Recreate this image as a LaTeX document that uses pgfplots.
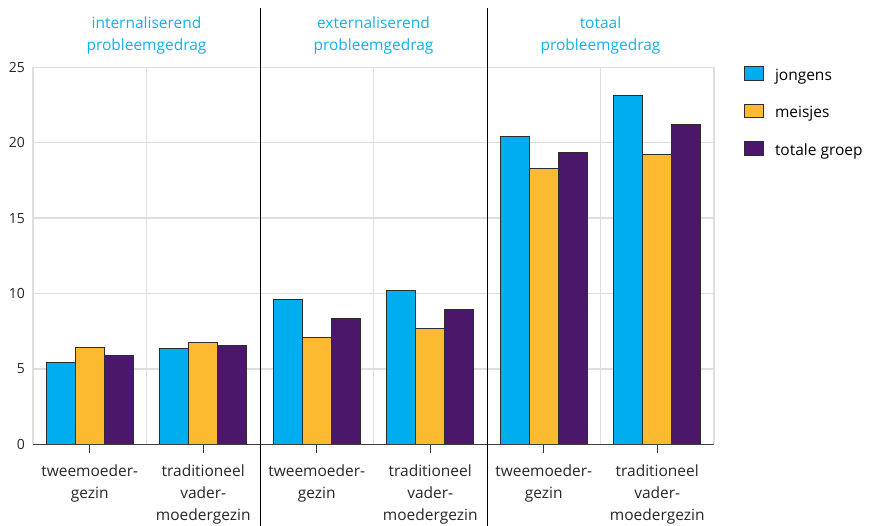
\documentclass[border=0pt]{standalone}
\usepackage{pgfplots}
\pgfplotsset{compat=1.18}
\usepackage{fontspec}
\setmainfont{Open Sans}
\definecolor{cJ}{RGB}{0,174,239}
\definecolor{cM}{RGB}{251,186,48}
\definecolor{cT}{RGB}{74,23,106}
\definecolor{cH}{RGB}{20,176,236}
\definecolor{gridc}{RGB}{222,222,222}
\definecolor{edge}{RGB}{45,45,45}
\newcommand{\lblfont}{\fontsize{15.5}{22}\selectfont}
\begin{document}
\begin{tikzpicture}[x=1pt,y=1pt]
\useasboundingbox (0,0) rectangle (871,526);
\begin{axis}[
  at={(33pt,81.7pt)}, anchor=south west,
  scale only axis, width=681pt, height=377pt,
  xmin=-0.5, xmax=5.5, ymin=0, ymax=25,
  clip=false,
  /pgf/number format/assume math mode=true,
  axis line style={draw=none},
  xtick pos=lower, ytick pos=left,
  xtick={0,1,2,3,4,5},
  xticklabels={tweemoeder-\\gezin, traditioneel\\vader-\\moedergezin, tweemoeder-\\gezin, traditioneel\\vader-\\moedergezin, tweemoeder-\\gezin, traditioneel\\vader-\\moedergezin},
  xticklabel style={align=center, font=\lblfont, text=black!85, anchor=north, inner sep=0pt, yshift=-11pt},
  xtick style={draw=black!80, line width=1pt},
  major tick length=9pt, tick align=outside,
  extra x ticks={-0.5,0.5,2.5,4.5,5.5},
  extra x tick labels={},
  extra x tick style={xmajorgrids=true, major tick length=0pt},
  ytick={0,5,10,15,20,25},
  ymajorgrids=true,
  major grid style={draw=gridc, line width=1.5pt},
  ytick style={draw=none},
  yticklabel style={font=\fontsize{14}{16}\selectfont, text=black!85, anchor=east, inner sep=0pt, xshift=1pt},
  legend image code/.code={\draw[#1] (0pt,-3.5pt) rectangle (19pt,10pt);},
  legend style={at={(1,1)}, anchor=north west, xshift=30pt, yshift=0.8pt,
    draw=none, fill=none, inner sep=0pt, outer sep=0pt,
    row sep=20pt, column sep=11pt, font=\lblfont,
    nodes={inner sep=0pt, text height=10.3pt, text depth=3.7pt, anchor=west}},
  legend cell align=left,
]
\addplot[ybar, bar width=29pt, bar shift=-29pt, fill=cJ, draw=edge, line width=1pt]
  coordinates {(0,5.43) (1,6.37) (2,9.59) (3,10.19) (4,20.38) (5,23.16)};
\addplot[ybar, bar width=29pt, bar shift=0pt, fill=cM, draw=edge, line width=1pt]
  coordinates {(0,6.41) (1,6.78) (2,7.07) (3,7.67) (4,18.30) (5,19.20)};
\addplot[ybar, bar width=29pt, bar shift=29pt, fill=cT, draw=edge, line width=1pt]
  coordinates {(0,5.90) (1,6.56) (2,8.36) (3,8.91) (4,19.36) (5,21.19)};
\legend{jongens, meisjes, totale groep}
\draw[black!75, line width=1.3pt] (axis cs:-0.5,0) -- (axis cs:5.5,0);
\draw[black, line width=1pt] (axis cs:1.5,28.95) -- (axis cs:1.5,-5.6);
\draw[black, line width=1pt] (axis cs:3.5,28.95) -- (axis cs:3.5,-5.6);
\node[text=cH, align=center, font=\lblfont, inner sep=0pt] at (axis cs:0.5,27.1) {internaliserend\\probleemgedrag};
\node[text=cH, align=center, font=\lblfont, inner sep=0pt] at (axis cs:2.5,27.1) {externaliserend\\probleemgedrag};
\node[text=cH, align=center, font=\lblfont, inner sep=0pt] at (axis cs:4.5,27.1) {totaal\\probleemgedrag};
\end{axis}
\end{tikzpicture}
\end{document}
